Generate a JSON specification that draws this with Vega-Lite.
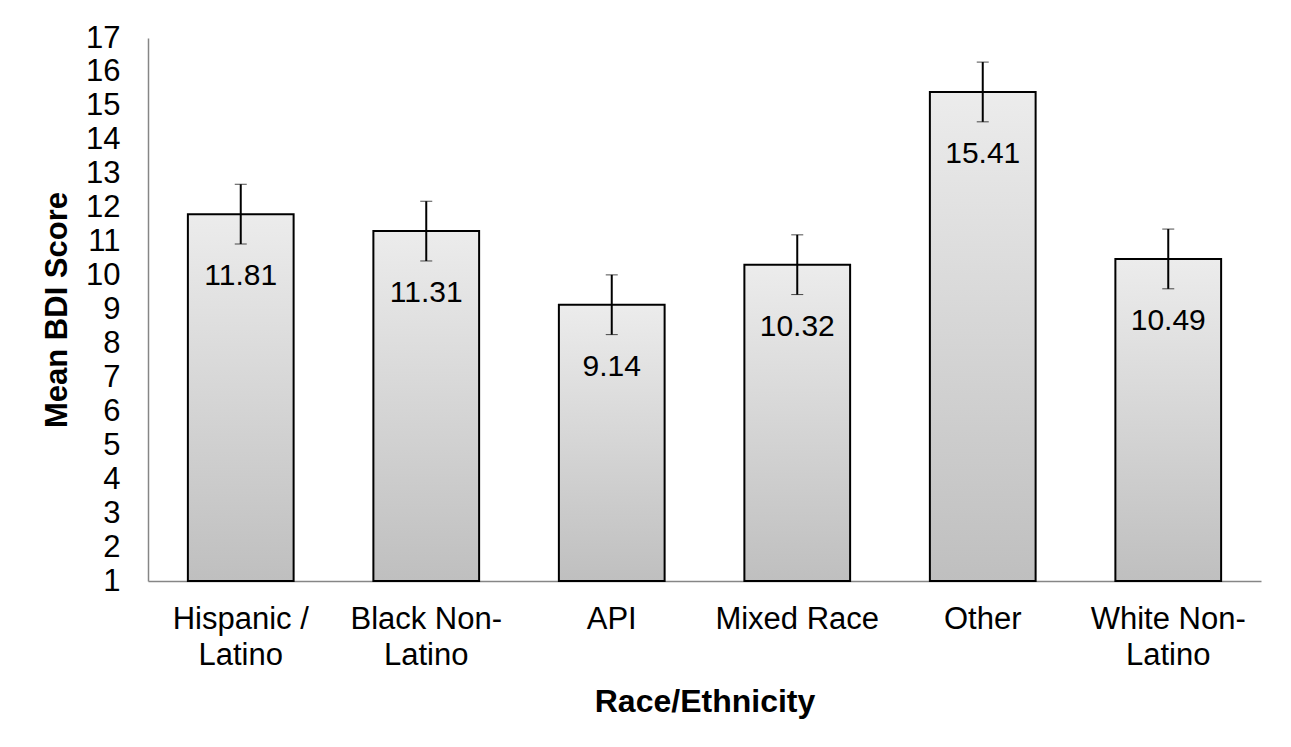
{
  "$schema": "https://vega.github.io/schema/vega-lite/v6.json",
  "autosize": "none",
  "width": 1113,
  "height": 543,
  "padding": {"left": 148, "top": 38, "right": 30, "bottom": 166},
  "background": "white",
  "config": {
    "font": "Liberation Sans",
    "view": {"stroke": null},
    "axis": {"labelFont": "Liberation Sans", "titleFont": "Liberation Sans", "labelColor": "black", "titleColor": "black"}
  },
  "data": {
    "values": [
      {"group": "Hispanic /|Latino", "mean": 11.81, "err": 0.88},
      {"group": "Black Non-|Latino", "mean": 11.31, "err": 0.88},
      {"group": "API", "mean": 9.14, "err": 0.88},
      {"group": "Mixed Race", "mean": 10.32, "err": 0.88},
      {"group": "Other", "mean": 15.41, "err": 0.88},
      {"group": "White Non-|Latino", "mean": 10.49, "err": 0.88}
    ]
  },
  "encoding": {
    "x": {
      "field": "group",
      "type": "nominal",
      "sort": null,
      "scale": {"paddingInner": 0.43, "paddingOuter": 0.215},
      "axis": {
        "title": "Race/Ethnicity",
        "titleFontSize": 32,
        "titleFontWeight": "bold",
        "titlePadding": 16,
        "labelAngle": 0,
        "labelFontSize": 31,
        "labelLineHeight": 36,
        "labelPadding": 23,
        "labelExpr": "split(datum.value, '|')",
        "ticks": false,
        "domainColor": "#868686",
        "domainWidth": 1.5
      }
    },
    "y": {
      "field": "mean",
      "type": "quantitative",
      "title": "Mean BDI Score",
      "scale": {"domain": [1, 17], "nice": false, "zero": false},
      "axis": {
        "title": "Mean BDI Score",
        "titleFontSize": 31,
        "titleFontWeight": "bold",
        "titlePadding": 12,
        "values": [1,2,3,4,5,6,7,8,9,10,11,12,13,14,15,16,17],
        "labelOverlap": false,
        "labelFontSize": 31,
        "labelPadding": 28,
        "ticks": false,
        "grid": false,
        "domainColor": "#868686",
        "domainWidth": 1.5
      }
    }
  },
  "layer": [
    {
      "mark": {
        "type": "bar",
        "stroke": "black",
        "strokeWidth": 2,
        "color": {
          "gradient": "linear",
          "x1": 0, "y1": 0, "x2": 0, "y2": 1,
          "stops": [
            {"offset": 0, "color": "#ececec"},
            {"offset": 1, "color": "#bfbfbf"}
          ]
        }
      },
      "encoding": {
        "y2": {"datum": 1}
      }
    },
    {
      "mark": {"type": "errorbar", "ticks": {"size": 12, "color": "black", "strokeWidth": 2}, "color": "black", "rule": {"strokeWidth": 2}},
      "encoding": {
        "yError": {"field": "err"}
      }
    },
    {
      "mark": {"type": "text", "fontSize": 30, "dy": 62, "baseline": "middle", "color": "black"},
      "encoding": {
        "text": {"field": "mean", "type": "quantitative", "format": ".2f"}
      }
    }
  ]
}
